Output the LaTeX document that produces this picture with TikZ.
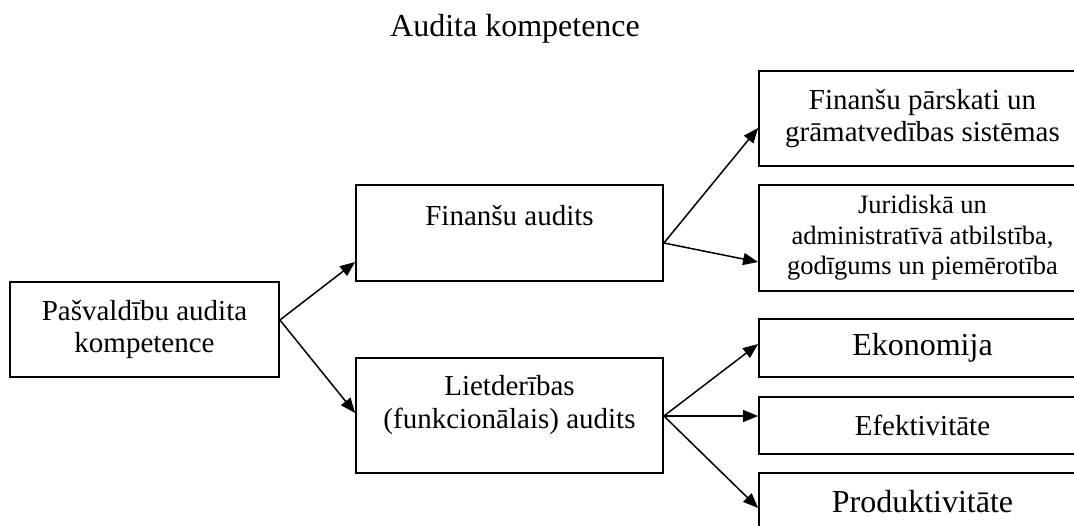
\documentclass[tikz,border=0pt]{standalone}
\usepackage{fontspec}
\setmainfont{Liberation Serif}
\usetikzlibrary{arrows.meta,calc}
\begin{document}
\begin{tikzpicture}[x=1pt,y=-1pt,
  box/.style={draw, line width=1.8pt, inner sep=0pt, align=center},
  rbox/.style={box, minimum width=327pt},
  conn/.style={line width=1.5pt, -{Triangle[length=15pt,width=12pt]}},
  fsmall/.style={font=\fontsize{26.5}{30.5}\selectfont},
  fmid/.style={font=\fontsize{29}{32.5}\selectfont},
  fbig/.style={font=\fontsize{32}{36}\selectfont}]
\useasboundingbox (0,0) rectangle (1074,525);

% heading
\node[fbig, anchor=base] (title) at (515,36) {Audita kompetence};

% root
\node[box, fmid, minimum width=269pt, minimum height=95pt] (pa) at (144.5,329.5)
  {Pašvaldību audita\\kompetence};

% second level: frames with their captions set near the top
\node[box, minimum width=307pt, minimum height=96pt] (fa) at (509.5,233) {};
\node[fmid, anchor=base] (fatext) at (509.5,225) {Finanšu audits};
\node[box, minimum width=307pt, minimum height=115pt] (la) at (509.5,415.5) {};
\node[fmid, align=center] (latext) at (509.5,405) {Lietderības\\(funkcionālais) audits};

% third level (open to the right edge)
\node[rbox, fmid, minimum height=95pt] (fp) at (922.5,118.5)
  {Finanšu pārskati un\\grāmatvedības sistēmas};
\node[rbox, fsmall, minimum height=106pt] (ja) at (922.5,238)
  {Juridiskā un\\administratīvā atbilstība,\\godīgums un piemērotība};
\node[rbox, fbig, minimum height=58pt] (ek) at (922.5,348) {Ekonomija};
\node[rbox, fmid, minimum height=57pt] (ef) at (922.5,425.5) {Efektivitāte};
\node[rbox, fbig, minimum height=58pt] (pr) at (922.5,502) {Produktivitāte};

% connectors
\coordinate (paout) at ($(pa.east)+(0,-9.5)$);
\coordinate (faout) at ($(fa.east)+(0,10)$);
\coordinate (laout) at ($(la.east)+(0,0.5)$);
\draw[conn] (paout) -- ($(fa.west)+(0,29)$);
\draw[conn] (paout) -- ($(la.west)+(0,-2.5)$);
\draw[conn] (faout) -- ($(fp.west)+(0,9.5)$);
\draw[conn] (faout) -- ($(ja.west)+(0,24)$);
\draw[conn] (laout) -- ($(ek.west)+(0,-4)$);
\draw[conn] (laout) -- ($(ef.west)+(0,-9.5)$);
\draw[conn] (laout) -- ($(pr.west)+(0,6)$);
\end{tikzpicture}
\end{document}
